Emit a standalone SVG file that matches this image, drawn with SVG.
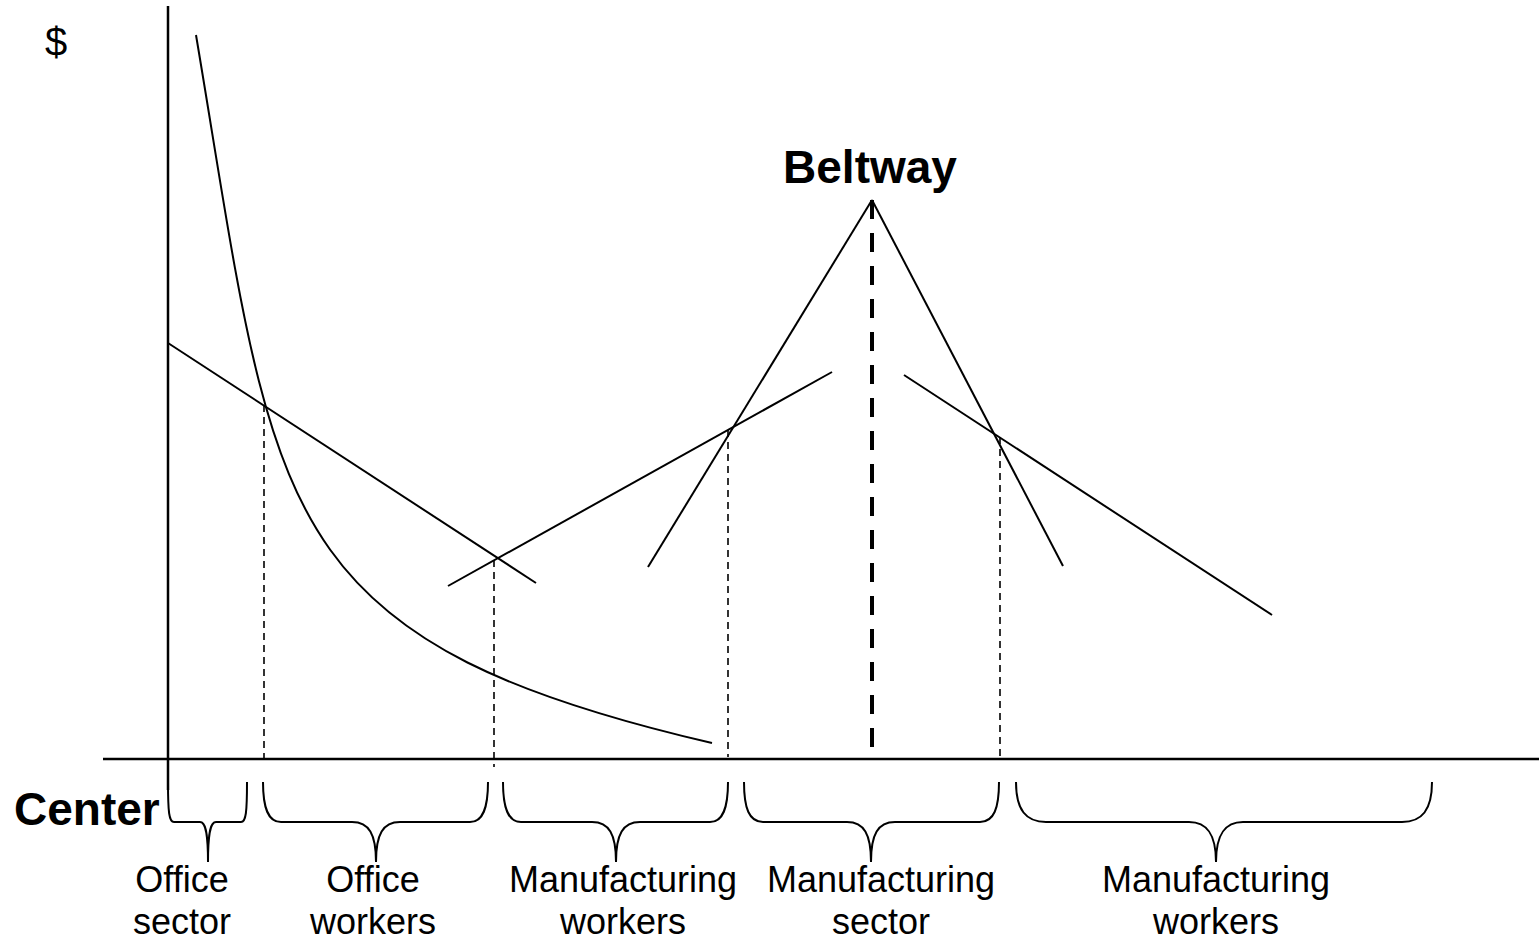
<svg xmlns="http://www.w3.org/2000/svg" width="1539" height="940" viewBox="0 0 1539 940">
<style>
.ax{stroke:#000;stroke-width:2.5;fill:none}
.ln{stroke:#000;stroke-width:2;fill:none}
.dt{stroke:#000;stroke-width:1.6;fill:none;stroke-dasharray:7 5}
.bw{stroke:#000;stroke-width:4;fill:none;stroke-dasharray:19 14}
.br{stroke:#000;stroke-width:2;fill:none}
.lb{font-family:"Liberation Sans",Arial,sans-serif;font-size:36px;fill:#000;text-anchor:middle}
.bd{font-family:"Liberation Sans",Arial,sans-serif;font-size:46px;font-weight:bold;fill:#000}
</style>
<rect width="1539" height="940" fill="#fff"/>
<g id="axes">
<line class="ax" x1="168" y1="6" x2="168" y2="790"/>
<line class="ax" x1="103" y1="759" x2="1539" y2="759"/>
<text class="lb" x="56" y="56" style="font-size:40px">$</text>
<text class="bd" x="14" y="825">Center</text>
</g>
<g id="connectors">
<path class="ln" d="M196,35 C276,510 264,639 712,743"/>
<line class="ln" x1="168" y1="343" x2="536" y2="583"/>
<line class="ln" x1="448" y1="586" x2="832" y2="372"/>
<line class="ln" x1="648" y1="567" x2="872" y2="200"/>
<line class="ln" x1="872" y1="200" x2="1063" y2="566"/>
<line class="ln" x1="904" y1="375" x2="1272" y2="615"/>
<line class="bw" x1="872" y1="200" x2="872" y2="759"/>
<line class="dt" x1="264" y1="405" x2="264" y2="759"/>
<line class="dt" x1="494" y1="560" x2="494" y2="767"/>
<line class="dt" x1="728" y1="430" x2="728" y2="757"/>
<line class="dt" x1="1000" y1="437" x2="1000" y2="757"/>
</g>
<g id="brace-office-sector">
<path class="br" d="M168,782 C168,812 169,822 174,822 H200 C205,822 208,830 208,862 C208,830 211,822 216,822 H241 C246,822 247,812 247,782"/>
<text class="lb" x="182" y="892">Office</text>
<text class="lb" x="182" y="934">sector</text>
</g>
<g id="brace-office-workers">
<path class="br" d="M263,782 C263,808 268,822 281,822 H352 C369,822 376,834 376,862 C376,834 383,822 400,822 H470 C483,822 488,808 488,782"/>
<text class="lb" x="373" y="892">Office</text>
<text class="lb" x="373" y="934">workers</text>
</g>
<g id="brace-manufacturing-workers-1">
<path class="br" d="M503,782 C503,808 508,822 521,822 H592 C609,822 616,834 616,862 C616,834 623,822 640,822 H710 C723,822 728,808 728,782"/>
<text class="lb" x="623" y="892">Manufacturing</text>
<text class="lb" x="623" y="934">workers</text>
</g>
<g id="brace-manufacturing-sector">
<path class="br" d="M744,782 C744,808 749,822 763,822 H847 C864,822 871,834 871,862 C871,834 878,822 895,822 H980 C994,822 999,808 999,782"/>
<text class="lb" x="881" y="892">Manufacturing</text>
<text class="lb" x="881" y="934">sector</text>
</g>
<g id="brace-manufacturing-workers-2">
<path class="br" d="M1016,782 C1016,810 1026,822 1046,822 H1189 C1207,822 1216,834 1216,862 C1216,834 1225,822 1243,822 H1402 C1422,822 1432,810 1432,782"/>
<text class="lb" x="1216" y="892">Manufacturing</text>
<text class="lb" x="1216" y="934">workers</text>
</g>
<g id="beltway-label">
<text class="bd" x="870" y="183" text-anchor="middle">Beltway</text>
</g>
</svg>
